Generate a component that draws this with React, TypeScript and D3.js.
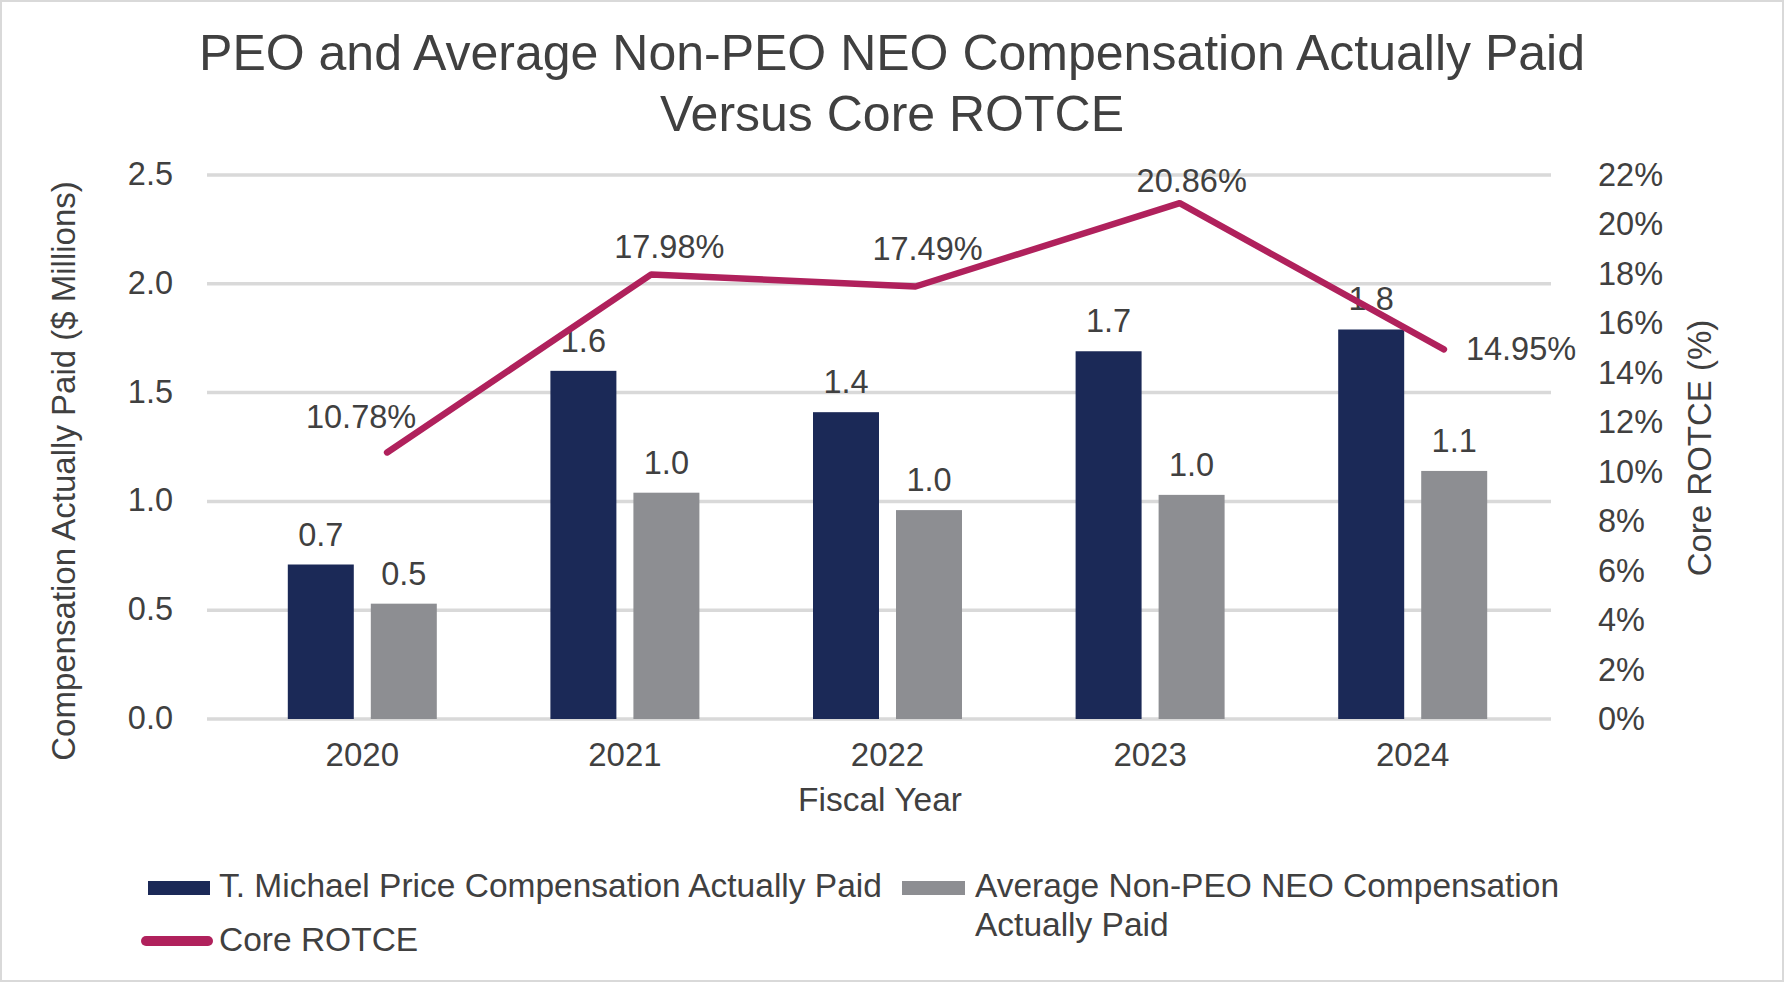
import * as d3 from 'd3';
import React, { useEffect, useRef } from 'react';

const years = ['2020', '2021', '2022', '2023', '2024'];
// $ millions
const peoPaid = [0.71, 1.6, 1.41, 1.69, 1.79];
const neoPaid = [0.53, 1.04, 0.96, 1.03, 1.14];
// percent
const coreRotce = [10.78, 17.98, 17.49, 20.86, 14.95];

const leftTicks = [0, 0.5, 1.0, 1.5, 2.0, 2.5];
const rightTicks = [0, 2, 4, 6, 8, 10, 12, 14, 16, 18, 20, 22];

const seriesNames = [
  'T. Michael Price Compensation Actually Paid',
  'Average Non-PEO NEO Compensation Actually Paid',
  'Core ROTCE',
];

// label nudges for the ROTCE line (dx, dy, anchor)
const rotceLabelPlacement: Array<[number, number, string]> = [
  [-26, -24, 'middle'],
  [18, -16, 'middle'],
  [12, -27, 'middle'],
  [12, -11, 'middle'],
  [22, 11, 'start'],
];

const NAVY = '#1b2957';
const GRAY = '#8d8e92';
const MAGENTA = '#b0215c';
const TEXT = '#404040';
const GRID = '#d9d9d9';
const FONT = '"Liberation Sans", Arial, Helvetica, sans-serif';

const WIDTH = 1784;
const HEIGHT = 983;

function CompensationChart() {
  const svgRef = useRef<SVGSVGElement>(null);

  useEffect(() => {
    if (!svgRef.current) return;
    const svg = d3.select(svgRef.current);
    svg.selectAll('*').remove();

    const plot = { left: 207, right: 1551, top: 175, bottom: 719 };

    const x = d3
      .scaleBand<string>()
      .domain(years)
      .range([231, 1544])
      .paddingInner(0.4326)
      .paddingOuter(0.2163);

    const xSub = d3
      .scaleBand<string>()
      .domain(['peo', 'neo'])
      .range([0, x.bandwidth()])
      .paddingInner(0.205);

    // the line sits on its own category axis, slightly offset from the bars
    const xLine = d3.scalePoint<string>().domain(years).range([255, 1576]).padding(0.5);

    const yLeft = d3.scaleLinear().domain([0, 2.5]).range([plot.bottom, plot.top]);
    const yRight = d3.scaleLinear().domain([0, 22]).range([plot.bottom, plot.top]);

    svg
      .append('rect')
      .attr('x', 1)
      .attr('y', 1)
      .attr('width', WIDTH - 2)
      .attr('height', HEIGHT - 3)
      .attr('fill', '#fff')
      .attr('stroke', GRID)
      .attr('stroke-width', 2);

    const g = svg.append('g').style('font-family', FONT).attr('fill', TEXT);

    // title
    const title = g
      .append('text')
      .attr('x', 892)
      .attr('text-anchor', 'middle')
      .style('font-size', '50px');
    title.append('tspan').attr('x', 892).attr('y', 70).text('PEO and Average Non-PEO NEO Compensation Actually Paid');
    title.append('tspan').attr('x', 892).attr('y', 131).text('Versus Core ROTCE');

    // gridlines
    g.append('g')
      .selectAll('line')
      .data(leftTicks)
      .join('line')
      .attr('x1', plot.left)
      .attr('x2', plot.right)
      .attr('y1', d => yLeft(d))
      .attr('y2', d => yLeft(d))
      .attr('stroke', GRID)
      .attr('stroke-width', 3.5);

    // left axis labels
    g.append('g')
      .selectAll('text')
      .data(leftTicks)
      .join('text')
      .attr('x', 173)
      .attr('y', d => yLeft(d) + 10)
      .attr('text-anchor', 'end')
      .style('font-size', '32.5px')
      .text(d => d3.format('.1f')(d));

    // right axis labels
    g.append('g')
      .selectAll('text')
      .data(rightTicks)
      .join('text')
      .attr('x', 1598)
      .attr('y', d => yRight(d) + 11)
      .attr('text-anchor', 'start')
      .style('font-size', '32.5px')
      .text(d => `${d}%`);

    // axis titles
    g.append('text')
      .attr('transform', 'translate(75,471) rotate(-90)')
      .attr('text-anchor', 'middle')
      .style('font-size', '33px')
      .text('Compensation Actually Paid ($ Millions)');

    g.append('text')
      .attr('transform', 'translate(1711,448) rotate(-90)')
      .attr('text-anchor', 'middle')
      .style('font-size', '33px')
      .text('Core ROTCE (%)');

    g.append('text')
      .attr('x', 880)
      .attr('y', 811)
      .attr('text-anchor', 'middle')
      .style('font-size', '33.5px')
      .text('Fiscal Year');

    // x axis labels
    g.append('g')
      .selectAll('text')
      .data(years)
      .join('text')
      .attr('x', d => (x(d) || 0) + x.bandwidth() / 2)
      .attr('y', 766)
      .attr('text-anchor', 'middle')
      .style('font-size', '33px')
      .text(d => d);

    // bars
    const barData = years.flatMap((year, i) => [
      { year, key: 'peo', value: peoPaid[i], color: NAVY },
      { year, key: 'neo', value: neoPaid[i], color: GRAY },
    ]);

    const bars = g.append('g');
    bars
      .selectAll('rect')
      .data(barData)
      .join('rect')
      .attr('x', d => (x(d.year) || 0) + (xSub(d.key) || 0))
      .attr('y', d => yLeft(d.value))
      .attr('width', xSub.bandwidth())
      .attr('height', d => yLeft(0) - yLeft(d.value))
      .attr('fill', d => d.color);

    bars
      .selectAll('text')
      .data(barData)
      .join('text')
      .attr('x', d => (x(d.year) || 0) + (xSub(d.key) || 0) + xSub.bandwidth() / 2)
      .attr('y', d => yLeft(d.value) - 19)
      .attr('text-anchor', 'middle')
      .style('font-size', '32.5px')
      .text(d => d3.format('.1f')(d.value));

    // ROTCE line
    const line = d3
      .line<number>()
      .x((_, i) => xLine(years[i]) || 0)
      .y(d => yRight(d));

    g.append('path')
      .datum(coreRotce)
      .attr('d', line)
      .attr('fill', 'none')
      .attr('stroke', MAGENTA)
      .attr('stroke-width', 6.5)
      .attr('stroke-linejoin', 'round')
      .attr('stroke-linecap', 'round');

    g.append('g')
      .selectAll('text')
      .data(coreRotce)
      .join('text')
      .attr('x', (_, i) => (xLine(years[i]) || 0) + rotceLabelPlacement[i][0])
      .attr('y', (d, i) => yRight(d) + rotceLabelPlacement[i][1])
      .attr('text-anchor', (_, i) => rotceLabelPlacement[i][2])
      .style('font-size', '32.5px')
      .text(d => `${d.toFixed(2)}%`);

    // legend
    const legend = g.append('g').style('font-size', '33.5px');
    legend
      .append('rect')
      .attr('x', 148)
      .attr('y', 881)
      .attr('width', 62)
      .attr('height', 14)
      .attr('fill', NAVY);
    legend.append('text').attr('x', 219).attr('y', 897).text(seriesNames[0]);

    legend
      .append('rect')
      .attr('x', 902)
      .attr('y', 881)
      .attr('width', 63)
      .attr('height', 14)
      .attr('fill', GRAY);
    const neoLegend = legend.append('text').attr('x', 975);
    neoLegend.append('tspan').attr('x', 975).attr('y', 897).text('Average Non-PEO NEO Compensation');
    neoLegend.append('tspan').attr('x', 975).attr('y', 936).text('Actually Paid');

    legend
      .append('line')
      .attr('x1', 146)
      .attr('x2', 208)
      .attr('y1', 941)
      .attr('y2', 941)
      .attr('stroke', MAGENTA)
      .attr('stroke-width', 10)
      .attr('stroke-linecap', 'round');
    legend.append('text').attr('x', 219).attr('y', 951).text(seriesNames[2]);
  }, []);

  return <svg ref={svgRef} width={WIDTH} height={HEIGHT} />;
}

export default function App() {
  return (
    <div style={{ position: 'absolute', left: 0, top: 0 }}>
      <CompensationChart />
    </div>
  );
}
